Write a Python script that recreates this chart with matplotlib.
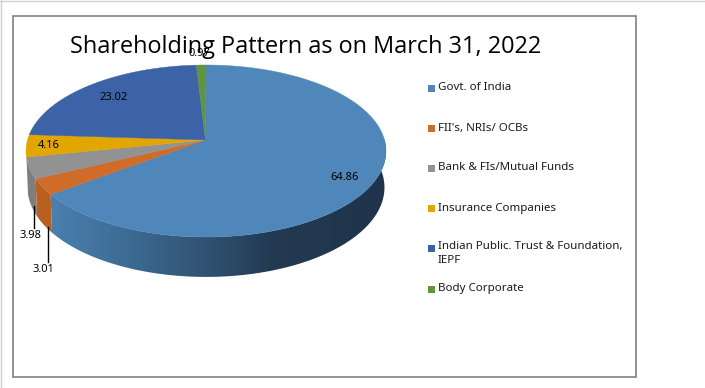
import numpy as np
import matplotlib
matplotlib.use("Agg")
import matplotlib.pyplot as plt
from matplotlib.colors import LinearSegmentedColormap
from matplotlib.patches import Polygon, Rectangle

title = "Shareholding Pattern as on March 31, 2022"
categories = ["Govt. of India", "FII's, NRIs/ OCBs", "Bank & FIs/Mutual Funds",
              "Insurance Companies", "Indian Public. Trust & Foundation,\nIEPF", "Body Corporate"]
values = [64.86, 3.01, 3.98, 4.16, 23.02, 0.97]
colors = ["#4F87BA", "#CF6C29", "#929292", "#E2A600", "#3C62A8", "#5F9540"]
wall_colors = ["#3F6E98", "#B8601F", "#7E7E7E"]
label_pos = [(345, 178), (43, 270), (31, 236), (49, 146), (114, 97), (199, 54)]

K = 0.128


def top_rim(deg):
    # tilted disc, front is closer so the centre sits above the ellipse middle
    a = np.radians(deg)
    d = 1 - K * -np.cos(a)
    return np.column_stack([206 + 178.5 * np.sin(a) / d, 140 + 84.6 * -np.cos(a) / d])


def low_rim(deg):
    a = np.radians(deg)
    d = 1 - K * -np.cos(a)
    return np.column_stack([206 + 177 * np.sin(a) / d, 176 + 88 * -np.cos(a) / d])


def wall(a0, a1):
    arc = np.linspace(a0, a1, 120)
    return np.vstack([top_rim(arc), low_rim(arc[::-1])])


fig = plt.figure(figsize=(7.05, 3.88), dpi=100)
ax = fig.add_axes([0, 0, 1, 1])

edges = np.concatenate([[0], np.cumsum(values)]) * 360 / sum(values)

# side walls, only the three front slices show
ax.fill(*wall(edges[2], edges[3]).T, color=wall_colors[2], lw=0, zorder=1)
ax.fill(*wall(edges[1], edges[2]).T, color=wall_colors[1], lw=0, zorder=1)
shade = LinearSegmentedColormap.from_list("wall", [(0, "#4A80AF"), (0.22, "#3D6C95"), (0.45, "#315373"),
                                                   (0.65, "#233A52"), (1, "#1F344A")])
img = ax.imshow(np.linspace(0, 1, 340).reshape(1, -1), cmap=shade, extent=(50, 390, 290, 140),
                aspect="auto", zorder=2)
clip = Polygon(wall(80, edges[1]), transform=ax.transData, fc="none", ec="none")
ax.add_patch(clip)
img.set_clip_path(clip)

# top face
for i, c in enumerate(colors):
    arc = np.linspace(edges[i], edges[i + 1], 200)
    pts = np.vstack([[(205.5, 140)], top_rim(arc)])
    ax.fill(*pts.T, color=c, lw=0.3, ec=c, zorder=3)

# leader lines
ax.plot([33.5, 33.5], [206, 228], color="black", lw=1, zorder=4)
ax.plot([47.5, 47.5], [227, 262], color="black", lw=1, zorder=4)

for v, (x, y) in zip(values, label_pos):
    ax.text(x, y, f"{v:.2f}", ha="center", va="center", fontsize=8.0, family="Noto Sans", color="black", zorder=5)

ax.text(306, 47, title, ha="center", va="center", fontsize=16.9, family="Open Sans", color="black", zorder=6)

# legend
rows = [88, 128, 168, 208, 248, 289]
for name, c, y in zip(categories, colors, rows):
    ax.add_patch(Rectangle((428, y - 3.5), 7, 7, fc=c, ec="none", zorder=3))
    ax.text(438, y if "\n" not in name else y - 7, name, ha="left", va="center" if "\n" not in name else "top",
            fontsize=8.3, family="Noto Sans", color="#1a1a1a", linespacing=1.38, zorder=3)

# chart frame and the sheet edge
ax.add_patch(Rectangle((12.5, 15.5), 623, 361, fc="none", ec="#808080", lw=1.2, zorder=7))
ax.plot([0.5, 0.5], [0, 388], color="#D0D0D0", lw=1, zorder=7)
ax.plot([0, 705], [0.5, 0.5], color="#D0D0D0", lw=1, zorder=7)

ax.set_xlim(0, 705)
ax.set_ylim(388, 0)
ax.axis("off")
fig.savefig("out.png", dpi=100)
